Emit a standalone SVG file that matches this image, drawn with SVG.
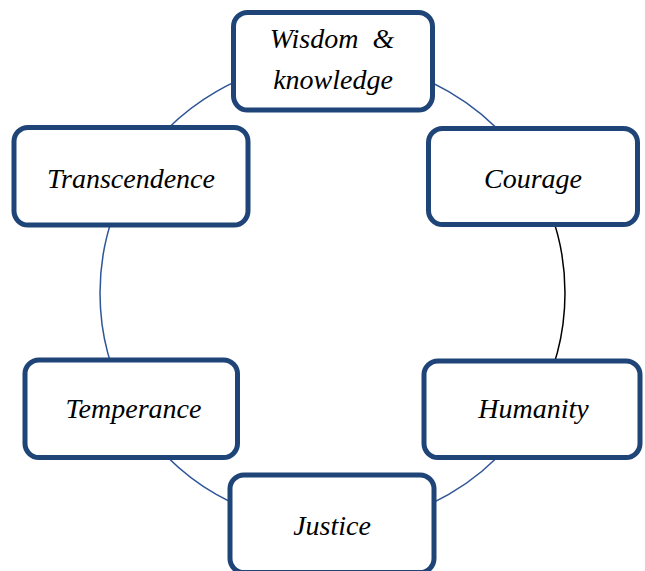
<svg xmlns="http://www.w3.org/2000/svg" width="645" height="571" viewBox="0 0 645 571">
  <style>
    .box { fill: #ffffff; stroke: #1f4478; stroke-width: 5; }
    .arc { fill: none; stroke: #2f5597; stroke-width: 1.5; }
    .arc.dark { stroke: #000000; }
    .label { font-family: "Liberation Serif", "DejaVu Serif", serif; font-style: italic; font-size: 28px; fill: #000000; text-anchor: middle; }
  </style>
  <rect width="645" height="571" fill="#ffffff"/>

  <!-- ring of connectors, centre (332.5,293), r 232.5 -->
  <g id="connectors">
    <path class="arc" d="M332.5 60.5 A232.5 232.5 0 0 1 533.85 176.75"/>
    <path class="arc dark" d="M533.85 176.75 A232.5 232.5 0 0 1 533.85 409.25"/>
    <path class="arc" d="M533.85 409.25 A232.5 232.5 0 0 1 332.5 525.5"/>
    <path class="arc" d="M332.5 525.5 A232.5 232.5 0 0 1 131.15 409.25"/>
    <path class="arc" d="M131.15 409.25 A232.5 232.5 0 0 1 131.15 176.75"/>
    <path class="arc" d="M131.15 176.75 A232.5 232.5 0 0 1 332.5 60.5"/>
  </g>

  <g id="wisdom">
    <rect class="box" x="233.5" y="12.5" width="199" height="97.5" rx="14"/>
    <text class="label" x="332" y="48" xml:space="preserve">Wisdom  &amp;</text>
    <text class="label" x="333" y="89">knowledge</text>
  </g>
  <g id="courage">
    <rect class="box" x="428.5" y="128.5" width="209" height="96" rx="14"/>
    <text class="label" x="533" y="188">Courage</text>
  </g>
  <g id="humanity">
    <rect class="box" x="424" y="361" width="216" height="96.5" rx="14"/>
    <text class="label" x="533.5" y="418">Humanity</text>
  </g>
  <g id="justice">
    <rect class="box" x="230" y="475" width="204" height="97.5" rx="14"/>
    <text class="label" x="332" y="535">Justice</text>
  </g>
  <g id="temperance">
    <rect class="box" x="25" y="360" width="212.5" height="97.5" rx="14"/>
    <text class="label" x="133.5" y="418">Temperance</text>
  </g>
  <g id="transcendence">
    <rect class="box" x="14" y="127.5" width="234" height="97.5" rx="14"/>
    <text class="label" x="131" y="188">Transcendence</text>
  </g>
</svg>
